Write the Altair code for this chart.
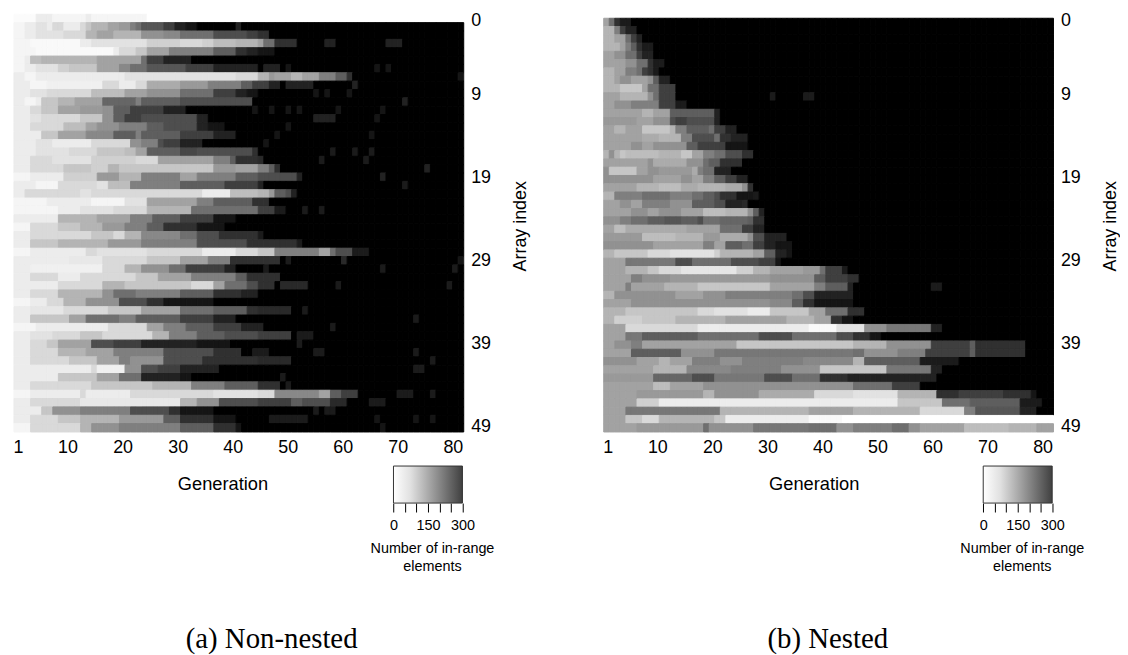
import altair as alt
import pandas as pd

alt.data_transformers.disable_max_rows()

# Rows: each token is LEVEL@LASTCOLUMN, level 0 (white) to 15 (black);
# one level = 20 in-range elements.  Columns after the last token are black.
non_nested_rows = [
"0.2@4 1@7 0.5@13 1@14 0.5@24 0@81",
"0.5@2 1@4 1.5@6 1@7 2@9 1@12 2@13 3@14 4@17 5@19 5.5@21 7@22 8@23 9.5@27 11@29 13@31 14@33 15@40 13@41 15@81",
"0.5@2 1@4 1.5@9 2@13 4@15 5@18 4@23 6@27 6.5@30 8@36 10@42 11@44 12@46 15@81",
"0.5@3 0.3@12 1@14 1.5@24 2.5@30 2@34 2.5@36 3.5@40 4@44 5@45 8@47 12@51 15@56 13@58 15@67 13@70 15@81",
"0.5@4 0.3@18 1@19 2@22 3@24 5@28 7@36 9@40 12@42 13@44 14@47 15@81",
"0.5@2 1@3 3.5@5 4@15 5@23 8@24 11@27 13@32 15@81",
"0.5@2 1@4 1.5@8 2.5@10 3@15 5@19 6.5@21 8@24 9.5@31 11@36 13@44 15@45 13@48 15@49 14@50 15@65 14@66 15@67 14@68 15@81",
"1@2 0.5@4 1@20 1.5@24 1.5@40 2@44 4@46 5.5@47 5@50 4@52 5@55 7@58 9@60 12@61 15@80 14@81",
"1@3 0.5@6 0.8@16 2@19 1@22 2@24 4.5@30 5.5@35 7@41 9@43 11@46 13@48 15@49 13@54 15@61 13@62 15@81",
"1@3 1.5@6 2@14 3.5@20 5@24 6@30 8@36 11@40 13@42 14@44 15@54 14@55 15@56 14@57 15@60 14@61 15@81",
"1@2 0.5@4 1@5 3@8 4@11 5@16 8.5@22 7@23 9@30 10@43 15@70 13@71 15@81",
"1@3 2@5 3@8 5@12 5.5@16 6@18 9@21 11@27 13@31 15@43 14@44 15@46 14@47 15@49 14@50 15@51 14@52 15@58 14@59 15@66 14@67 15@81",
"1@3 1.5@5 2@12 3@16 6@18 9@20 11@23 10@33 13@35 15@54 13@58 15@65 14@66 15@81",
"1@3 2@9 3.5@13 5@15 6@19 7@24 9@27 10@33 13@35 14@38 15@49 14@50 15@81",
"1@5 3@8 5@13 6.5@18 9@22 7@23 9@30 11@36 13@40 15@47 14@48 15@64 14@65 15@81",
"1@4 1.5@7 1@14 2@21 6@23 7@26 10@27 11@30 13@34 15@45 14@46 15@81",
"1@4 1.5@10 2@15 3@20 3.5@22 5@24 9@30 10.5@33 10@43 12@44 15@57 13.5@58 15@61 13.5@62 15@64 13.5@65 15@81",
"1@3 2@7 1.5@14 2.5@22 2@26 5@36 7@39 9@40 12@44 12.5@45 15@55 13.5@56 15@63 13.5@64 15@81",
"1@3 2@9 3@14 2.5@17 4@19 3@24 3@36 5.5@40 5@44 7@46 9@47 12@48 15@74 13@75 15@81",
"0.5@3 1@9 2.5@15 5.5@19 4@23 7@30 5@33 7@40 9@44 10@51 13@52 15@66 13@67 15@81",
"1@4 0.5@8 2@15 1.5@17 3.5@21 7@30 9@38 11@44 13@45 15@70 13.5@71 15@81",
"1@2 2@12 1.5@14 2@34 1@39 3.5@44 4@46 5.5@47 9@49 10@50 13@51 15@81",
"0.5@6 1@14 0.5@20 1.5@24 5@33 7@36 9@43 12@46 15@81",
"0.5@8 1@12 1.5@18 2@24 4@32 8@44 11@47 13.5@49 15@52 13.5@53 15@55 13.5@56 15@81",
"1@8 4@15 5@21 7@25 9@30 11@36 14@40 15@81",
"0.5@3 2@8 3@12 4@16 5.5@20 7@24 9@27 12@33 14@38 15@81",
"1@3 2@14 3@18 2@20 4@23 6.5@30 8@33 10@37 12@44 13.5@45 15@81",
"1@3 3@8 4@17 5.5@23 7@33 10@42 12@51 13.5@52 15@81",
"0.5@3 1@13 2@15 1.5@24 2@34 1@40 2@44 3@47 7@55 5@57 8@58 10@61 13.5@64 15@81",
"1@10 1.2@16 2@24 3@30 5@35 7@39 12@48 15@49 13.5@50 15@59 12.5@60 15@80 14@81",
"1@3 0.8@16 2@20 4@23 6@28 8@31 11@38 13@40 15@45 13.5@46 15@66 13.5@67 15@79 13.5@80 15@81",
"1@3 2@8 1@12 2@22 3@26 5@32 7@40 9@42 12@48 15@81",
"1@8 2@16 4@20 3@32 2@36 5@38 8@42 10@44 12@47 15@48 12.5@53 15@58 13.5@59 15@78 13.5@79 15@81",
"1@3 2@8 4@16 6@18 8@22 7@30 9@36 12@41 13@44 15@81",
"0.5@3 1@6 2@9 4@13 6@19 10@24 12@27 14@36 15@81",
"1@3 1.3@9 2@17 3@23 5@30 8@36 9@42 12@44 12.5@50 15@52 13.5@53 15@81",
"1@3 3@10 5@13 8@19 7@22 9@30 11@36 13@40 15@72 13.5@73 15@81",
"0.5@4 1@17 2@24 5@27 7@31 9@36 11@41 13@45 15@57 13.5@58 15@81",
"1@3 1.5@7 2@12 3@16 2@25 4@28 7@33 9@38 10@44 11@50 15@51 13.5@54 15@81",
"1@3 2@6 3@8 5@14 10@18 11@23 13@33 14@39 15@51 13.5@52 15@81",
"1@3 2@8 4@13 5@18 7@27 10@36 12@41 15@43 13.5@46 15@54 13.5@56 15@72 13.5@73 15@81",
"1@3 2@10 3@15 5@19 7@21 6@27 10@34 12@44 12.5@50 15@75 13.5@76 15@81",
"1@14 2@15 0.8@20 6@23 10@26 11@30 13@37 15@72 13.5@74 15@81",
"1@8 3@15 5@19 8@23 13@30 14@32 15@48 13.5@49 15@81",
"1@3 2@14 3@25 4@32 7@38 9@44 12@48 15@49 13.5@50 15@81",
"0.5@3 1@12 2@13 1@21 2@36 1.5@44 2@47 6.5@55 5@57 9@59 11@62 15@69 13.5@72 15@75 13.5@76 15@81",
"1@3 2@12 1.2@30 4@33 6@37 10@44 11@50 9@52 10@57 12.5@60 15@64 13.5@67 15@81",
"1@5 3@7 6@12 7@21 10@28 12@30 14@36 15@54 13.5@55 15@56 13.5@58 15@81",
"1@3 2@8 3@12 4@19 5.5@27 9@30 12@36 14@40 15@46 13.5@53 15@65 14@66 15@72 14@73 15@75 14@76 15@81",
"0.5@3 2@12 4@14 6@19 7@30 9@36 12@40 14@41 15@66 14@67 15@81",
]

nested_rows = [
"5@1 8@2 12@3 13.5@5",
"4@2 7@3 11@4 13@6",
"4@2 5@4 8@5 11@6 13@7",
"4@3 5@4 7@5 9@6 12@7 13.5@9",
"5@2 6@4 8@6 11@7 13@9",
"5@4 6@6 8@8 12@9 13.5@11",
"4@2 5@4 7@6 8@7 11@8 12@9 13.5@10",
"4@2 5@3 6@5 5@8 6@9 9@10 13@12",
"4@3 3@7 5@8 8@10 11@13",
"5@3 4@8 6@9 8@10 11@13 15@30 13.5@31 15@36 13.5@38",
"5@2 6@5 7@10 11@13 13.5@15",
"5@7 4@9 5@12 9@20 13@21",
"5.5@6 5@9 6@12 10@13 11@15 10@20 13@21",
"5@2 4@4 5@7 3@12 4@13 7@15 9@19 8@20 11@22 13@24",
"5@7 4.5@10 4@14 7@16 10@20 8@21 12@23 13@26",
"5@5 6@7 5@9 6@15 9@17 11@22 14@26",
"4@1 6@2 4@3 3@4 3.5@10 4@14 3@16 5@18 7@20 8@22 10@25 12@27",
"5@8 6@9 4.5@15 6@18 8@19 9@21 12@25",
"6@1 3@6 5@8 6@10 5.5@16 4.5@17 7@18 8@20 13@23",
"6@9 5@14 6@16 5@18 7@20 9@22 11@24 13@26",
"5@6 4@10 3.5@14 4.5@17 4@22 4.5@25 6@26 12@27",
"4@2 7@7 8@12 7@16 8@18 9@20 10@21 12@24 14@27 13.5@28",
"5@3 6@5 5@7 7@12 6@16 9@20 10@22 13@25 12.5@26",
"5@5 6@8 5@10 6@14 5@18 3.5@22 4@26 6@27 9@28 13@29",
"6@3 7@5 8@8 9@11 9.5@14 9@17 10@18 8@21 8.5@26 9@27 12@29",
"5@2 3.5@4 4.5@15 5@21 8@25 11@27 13@29",
"5.5@7 3.5@13 4@18 5.5@21 4.5@26 6@27 10@29 13@33",
"6@9 5@18 7@20 5@22 9@25 8@27 11@29 13@31 14@34",
"4@2 3@8 2@12 1.5@20 2.5@21 4@27 5@29 9@31 13@33 14@34",
"5@4 7.5@13 10@16 8@23 10@28 11@31 14@32",
"5@4 4@8 3@10 2@14 1.3@24 2.5@27 4@30 5@36 5.5@39 8@40 11@43 13.5@44",
"5@5 7@7 6@12 5.5@30 6@38 9@40 11@44 12@46",
"5@4 7@5 5@11 4@17 3@30 5@38 7@40 9@44 13@45 15@59 13.5@61",
"4@2 6@13 5@18 6@22 7@34 8@36 10@38 13@45",
"5@5 6@30 6.5@34 9@36 12@38 14@45",
"4@4 3@17 2@20 1.5@26 1@30 3@37 5@40 8@44 12@47",
"4@2 2.5@7 3@13 4@22 5@33 4@38 5@41 12@43 14@45",
"5@4 2@17 1@37 0.3@42 1.5@47 6@51 7.5@59 13@61",
"5@4 7.5@7 9@17 8@28 10@34 8@42 10@45 12@48 14@50",
"5@2 6@5 7@7 5@24 3@45 4@51 6@59 11@66 9@67 12@76",
"5@5 9@14 6@20 7.5@45 8@47 6@53 7@58 11@66 9@67 12@76",
"6@6 5@10 4@12 5@16 7@21 6@25 7@36 6.5@45 4@47 9@57 13.5@64",
"5@9 4@15 6.5@23 7@32 6@39 3@51 7.5@59 13@61",
"5.5@9 8.5@16 10@20 7.5@29 10@34 8@39 12@44 13@60",
"5@9 3.5@12 5@18 6@45 8@52 11@57",
"5@6 5.5@18 4@20 6@28 4.5@38 2@45 1.5@53 4@60 12@64 11@72 12@77 14@78",
"5@6 2.5@10 1@53 3@61 8@66 9@75 13.5@79",
"5@4 7.5@21 4@37 5@45 4@57 2@65 7@67 9.5@75 13@78",
"5@4 3@7 2@10 4@20 3@22 1@37 0.3@43 0@81",
"5@6 5.5@18 8@19 6@27 7.5@37 8@42 6@45 7@52 8@55 6@57 5@65 3.5@73 4@78 5@81",
]

generation_ticks = [1, 10, 20, 30, 40, 50, 60, 70, 80]
index_ticks = [0, 9, 19, 29, 39, 49]
legend_ticks = [0, 50, 100, 150, 200, 250, 300]
legend_labels = [0, 150, 300]
legend_gray = ["#ffffff", "#e0e0e0", "#404040"]

SANS = "Liberation Sans"
W, H = 453, 420.7
COUNT_SCALE = alt.Scale(domain=[0, 300], range=["#ffffff", "#000000"])


def expand(rows):
    out = []
    for i, row in enumerate(rows):
        col = 1
        for tok in row.split():
            lv, end = tok.split("@")
            for g in range(col, int(end) + 1):
                out.append({"x0": g - 1, "x1": g, "y0": i, "y1": i + 1, "count": float(lv) * 20})
            col = int(end) + 1
        for g in range(col, 82):
            out.append({"x0": g - 1, "x1": g, "y0": i, "y1": i + 1, "count": 300.0})
    return pd.DataFrame(out)


def panel(rows, ytop, title_x, caption, caption_dx):
    cells = alt.Chart(expand(rows)).mark_rect(strokeWidth=1).encode(
        x=alt.X("x0:Q", scale=alt.Scale(domain=[0, 81], nice=False, zero=False), axis=None),
        x2="x1:Q",
        y=alt.Y("y0:Q", scale=alt.Scale(domain=[50, ytop], nice=False, zero=False), axis=None),
        y2="y1:Q",
        color=alt.Color("count:Q", scale=COUNT_SCALE, legend=None),
        stroke=alt.Stroke("count:Q", scale=COUNT_SCALE, legend=None),
    )
    axes = alt.Chart(pd.DataFrame({"g": [1], "i": [0]})).mark_point(opacity=0).encode(
        x=alt.X("g:Q", scale=alt.Scale(domain=[0.26, 81.98], nice=False, zero=False),
                axis=alt.Axis(orient="bottom", values=generation_ticks, title="Generation",
                              titleX=title_x, titleY=43, titleFont=SANS, titleFontSize=18.4,
                              titleFontWeight="normal", titleColor="#000",
                              labelFont=SANS, labelFontSize=18, labelColor="#000",
                              labelPadding=7, tickSize=0, ticks=False, domain=False, grid=False,
                              labelFlush=False, labelOverlap=False)),
        y=alt.Y("i:Q", scale=alt.Scale(domain=[49.68, -0.72], nice=False, zero=False),
                axis=alt.Axis(orient="right", values=index_ticks, title="Array index",
                              titleAngle=270, titleY=213, titlePadding=39, titleFont=SANS, titleFontSize=18,
                              titleFontWeight="normal", titleColor="#000",
                              labelFont=SANS, labelFontSize=18, labelColor="#000",
                              labelPadding=7, tickSize=0, ticks=False, domain=False, grid=False,
                              labelFlush=False, labelOverlap=False)),
    )
    heat = alt.layer(cells, axes).resolve_scale(x="independent", y="independent").properties(width=W, height=H)

    grad = alt.LinearGradient(
        gradient="linear", x1=0, x2=1, y1=0, y2=0,
        stops=[alt.GradientStop(color=legend_gray[0], offset=0),
               alt.GradientStop(color=legend_gray[1], offset=0.25),
               alt.GradientStop(color=legend_gray[2], offset=1)],
    )
    label_test = " || ".join(f"datum.value == {v}" for v in legend_labels)
    bar = alt.Chart(pd.DataFrame({"a": [legend_ticks[0]], "b": [legend_ticks[-1]]})).mark_rect(
        fill=grad, stroke="#333", strokeWidth=1
    ).encode(
        x=alt.X("a:Q", scale=alt.Scale(domain=[-1651, 305.6], nice=False, zero=False),
                axis=alt.Axis(orient="bottom", values=legend_ticks, title=["Number of in-range", "elements"],
                              titleX=421, titleY=39, titleAlign="center", titleBaseline="top",
                              titleFont=SANS, titleFontSize=14.5, titleFontWeight="normal",
                              titleColor="#000", titleLineHeight=18,
                              labelFont=SANS, labelFontSize=14.5, labelColor="#000",
                              labelExpr=f"({label_test}) ? datum.label : ''", labelPadding=7,
                              tickSize=9, tickColor="#000", tickWidth=1, domain=False, grid=False,
                              labelFlush=False, labelOverlap=False)),
        x2="b:Q",
        y=alt.value(0),
        y2=alt.value(37.3),
    ).properties(
        width=W, height=37.3,
        title=alt.TitleParams(caption, orient="bottom", anchor="start", frame="group",
                              dx=caption_dx, offset=52, font="Liberation Serif", fontSize=29,
                              fontWeight="normal", color="#000"),
    )
    return alt.vconcat(heat, bar, spacing=34, bounds="flush")


left = panel(non_nested_rows, 0, 210, "(a) Non-nested", 173)
right = panel(nested_rows, -0.48, 211.5, "(b) Nested", 165)

chart = alt.hconcat(left, right, spacing=73).properties(
    padding={"left": 5, "top": 1, "right": 0, "bottom": 0}
).configure_view(stroke=None)

chart.save("out.html", embed_options={"renderer": "svg", "actions": False})
